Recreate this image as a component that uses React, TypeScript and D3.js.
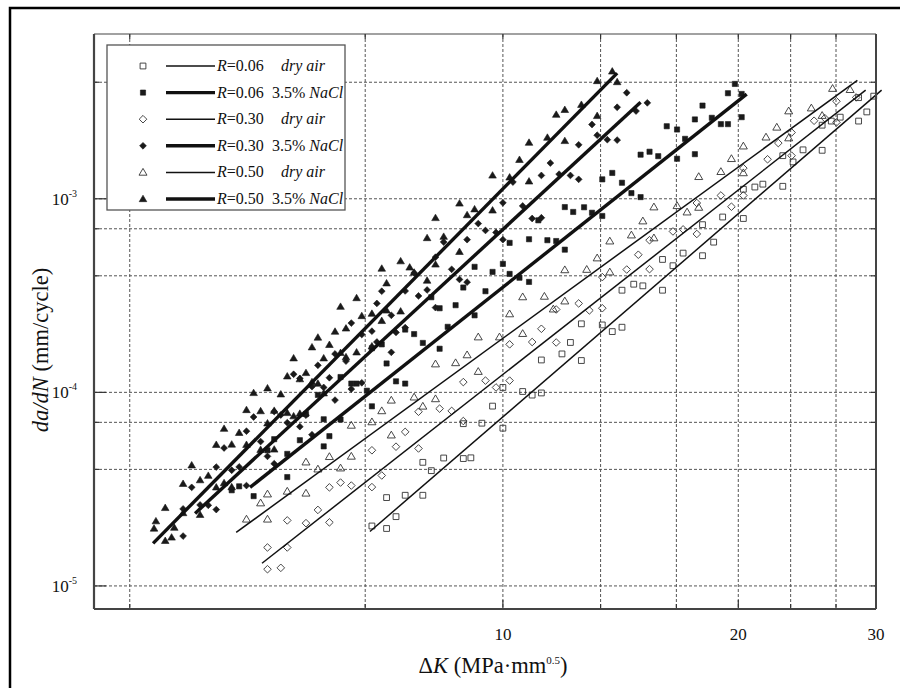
import React from 'react';
import * as d3 from 'd3';

type Pt = [number, number];

// ΔK (MPa·mm^0.5), da/dN (mm/cycle)
const r050NaCl: Pt[] = [
  [3.58, 1.98e-5], [3.77, 1.78e-5], [3.7, 2.53e-5], [3.7, 1.71e-5], [3.9, 3.37e-5], [3.9, 2.38e-5],
  [4.1, 3.52e-5], [4.1, 2.33e-5], [4.3, 5.36e-5], [4.3, 3.23e-5], [4.5, 5.38e-5], [4.5, 3.24e-5],
  [4.7, 8.11e-5], [4.7, 5.36e-5], [4.9, 5.05e-5], [4.9, 8.0e-5], [5.1, 8.04e-5], [5.1, 5.07e-5],
  [5.3, 1.21e-4], [5.3, 7.83e-5], [5.5, 1.17e-4], [5.5, 7.76e-5], [5.7, 1.71e-4], [5.7, 1.13e-4],
  [5.9, 1.5e-4], [5.9, 9.89e-5], [6.1, 2.06e-4], [6.3, 1.52e-4], [6.3, 2.14e-4], [6.5, 3.07e-4],
  [6.5, 1.61e-4], [6.8, 2.55e-4], [6.8, 1.73e-4], [7.1, 3.66e-4], [7.1, 2.65e-4], [7.4, 4.76e-4],
  [7.4, 2.62e-4], [7.7, 4.16e-4], [8.0, 6.27e-4], [8.0, 3.78e-4], [8.4, 6.37e-4], [8.8, 9.46e-4],
  [8.8, 5.32e-4], [9.2, 8.83e-4], [9.7, 1.32e-3], [9.7, 8.71e-4], [10.2, 1.29e-3], [10.8, 1.95e-3],
  [10.8, 1.23e-3], [11.4, 2.07e-3], [12.0, 2.88e-3], [12.0, 1.99e-3], [12.6, 3.06e-3], [13.2, 4.06e-3],
  [13.2, 2.68e-3], [13.8, 4.55e-3], [14.0, 4.01e-3],
  [3.6, 2.16e-5], [3.8, 2.0e-5], [4.0, 4.2e-5], [4.2, 3.71e-5], [4.4, 6.49e-5], [4.4, 3.4e-5],
  [4.6, 6.18e-5], [4.8, 9.93e-5], [5.0, 6.92e-5], [5.0, 1.05e-4], [5.2, 9.77e-5], [5.4, 1.5e-4],
  [5.4, 7.53e-5], [5.6, 1.26e-4], [5.8, 1.92e-4], [5.8, 1.11e-4], [6.0, 1.76e-4], [6.2, 2.77e-4],
  [6.2, 1.6e-4], [6.6, 2.48e-4], [7.0, 4.36e-4], [7.0, 2.34e-4], [7.6, 4.42e-4], [8.2, 7.96e-4],
  [8.2, 4.58e-4], [9.0, 8.24e-4], [10.5, 1.59e-3], [11.7, 2.72e-3],
];

const r030NaCl: Pt[] = [
  [3.9, 2.5e-5], [3.9, 1.81e-5], [4.1, 2.62e-5], [4.3, 4.11e-5], [4.3, 2.48e-5], [4.5, 3.96e-5],
  [4.7, 6.3e-5], [4.7, 3.3e-5], [4.9, 5.57e-5], [5.1, 7.96e-5], [5.1, 4.28e-5], [5.3, 6.97e-5],
  [5.5, 1.18e-4], [5.5, 6.65e-5], [5.7, 1.07e-4], [5.7, 6.04e-5], [5.9, 1.06e-4], [6.1, 1.58e-4],
  [6.1, 9.12e-5], [6.3, 1.45e-4], [6.6, 1.12e-4], [6.6, 1.99e-4], [6.9, 1.82e-4], [6.9, 2.88e-4],
  [7.2, 1.61e-4], [7.2, 2.5e-4], [7.5, 3.34e-4], [7.5, 2.16e-4], [7.8, 3.15e-4], [8.2, 4.99e-4],
  [8.2, 2.74e-4], [8.6, 4.32e-4], [9.0, 6.15e-4], [9.0, 3.71e-4], [9.5, 6.86e-4], [10.0, 6.15e-4],
  [10.0, 9.53e-4], [10.6, 9.18e-4], [11.2, 1.32e-3], [11.2, 7.98e-4], [11.8, 1.34e-3], [12.5, 1.9e-3],
  [12.5, 1.26e-3], [13.2, 2.13e-3], [14.0, 2.97e-3], [14.0, 2.01e-3], [14.8, 2.84e-3], [15.3, 3.13e-3],
  [4.0, 3.23e-5], [4.2, 2.61e-5], [4.4, 5.16e-5], [4.6, 4.12e-5], [4.8, 7.46e-5], [5.0, 4.67e-5],
  [5.2, 7.64e-5], [5.4, 1.24e-4], [5.6, 7.62e-5], [5.8, 1.38e-4], [6.0, 1.19e-4], [6.4, 2.28e-4],
  [6.4, 1.04e-4], [6.8, 2.07e-4], [7.0, 3.33e-4], [7.3, 2.04e-4], [7.7, 4.14e-4], [8.0, 3.38e-4],
  [8.4, 5.98e-4], [8.8, 3.83e-4], [9.3, 7.45e-4], [9.8, 6.7e-4], [10.3, 1.22e-3], [10.9, 7.91e-4],
  [11.5, 1.53e-3], [12.2, 1.32e-3], [13.0, 2.42e-3], [13.6, 2.02e-3], [14.4, 3.53e-3],
];

const r006NaCl: Pt[] = [
  [4.6, 3.27e-5], [4.8, 2.91e-5], [5.0, 5.02e-5], [5.3, 4.81e-5], [5.3, 3.65e-5], [5.6, 7.73e-5],
  [5.9, 7.26e-5], [5.9, 5.26e-5], [6.2, 1.2e-4], [6.2, 7.24e-5], [6.5, 1.11e-4], [6.8, 1.69e-4],
  [6.8, 8.47e-5], [7.1, 1.41e-4], [7.5, 2.11e-4], [7.5, 1.11e-4], [7.9, 1.8e-4], [8.3, 2.72e-4],
  [8.3, 1.68e-4], [8.7, 2.82e-4], [9.2, 4.45e-4], [9.2, 2.5e-4], [9.7, 4.19e-4], [10.2, 4.09e-4],
  [10.2, 5.92e-4], [10.8, 3.72e-4], [10.8, 6.18e-4], [11.4, 6.11e-4], [12.0, 9.06e-4], [12.0, 5.46e-4],
  [12.7, 9.04e-4], [13.4, 1.26e-3], [13.4, 8.15e-4], [14.2, 1.21e-3], [15.0, 1.69e-3], [15.0, 1.02e-3],
  [15.8, 1.66e-3], [16.7, 1.61e-3], [16.7, 2.28e-3], [17.6, 1.7e-3], [17.6, 2.57e-3], [18.5, 2.62e-3],
  [19.4, 3.51e-3], [19.4, 2.43e-3], [20.2, 3.48e-3], [20.2, 2.64e-3],
  [4.5, 3.12e-5], [5.1, 5.73e-5], [5.5, 5.66e-5], [5.8, 9.7e-5], [6.0, 5.94e-5], [6.4, 1.11e-4],
  [6.7, 1.02e-4], [7.0, 1.77e-4], [7.3, 1.14e-4], [7.7, 2.0e-4], [8.1, 3.1e-4], [8.5, 2.18e-4],
  [8.9, 3.48e-4], [9.5, 3.33e-4], [10.0, 4.61e-4], [10.5, 3.91e-4], [11.1, 7.74e-4], [11.7, 6.05e-4],
  [12.3, 8.55e-4], [13.0, 8.47e-4], [13.8, 1.36e-3], [14.6, 1.07e-3], [15.4, 1.75e-3], [16.2, 2.37e-3],
  [17.1, 2.04e-3], [18.0, 3.03e-3], [19.0, 2.43e-3], [19.8, 3.92e-3],
];

const r050Air: Pt[] = [
  [4.7, 2.21e-5], [5.0, 2.21e-5], [5.0, 2.98e-5], [5.3, 3.08e-5], [5.6, 4.36e-5], [5.6, 3.01e-5],
  [6.0, 4.65e-5], [6.4, 6.75e-5], [6.4, 4.67e-5], [6.8, 7.03e-5], [7.2, 6.01e-5], [7.2, 9.1e-5],
  [7.7, 9.44e-5], [8.2, 1.4e-4], [8.2, 9.25e-5], [8.7, 1.42e-4], [9.3, 1.93e-4], [9.3, 1.28e-4],
  [9.9, 1.93e-4], [10.6, 3.11e-4], [10.6, 2.01e-4], [11.3, 3.13e-4], [12.0, 4.29e-4], [12.0, 2.96e-4],
  [12.8, 4.31e-4], [13.7, 6.04e-4], [13.7, 4.18e-4], [14.6, 6.49e-4], [15.6, 9.06e-4], [15.6, 6.27e-4],
  [16.7, 9.2e-4], [17.8, 1.3e-3], [17.8, 9.02e-4], [19.0, 1.38e-3], [20.3, 1.87e-3], [20.3, 1.36e-3],
  [21.7, 2.08e-3], [23.2, 2.84e-3], [23.2, 2.06e-3], [24.8, 2.94e-3], [26.4, 3.71e-3], [27.8, 3.66e-3],
  [4.9, 2.68e-5], [5.8, 4.01e-5], [6.2, 4.06e-5], [7.0, 8.02e-5], [7.9, 8.47e-5], [9.0, 1.56e-4],
  [10.2, 2.54e-4], [11.6, 2.69e-4], [13.2, 4.94e-4], [15.1, 7.67e-4], [17.2, 8.53e-4], [19.6, 1.61e-3],
  [22.4, 2.34e-3], [25.6, 2.69e-3],
];

const r030Air: Pt[] = [
  [5.0, 1.22e-5], [5.0, 1.58e-5], [5.3, 1.58e-5], [5.3, 2.18e-5], [5.6, 2.11e-5], [6.0, 3.23e-5],
  [6.0, 2.13e-5], [6.4, 3.3e-5], [6.8, 5.02e-5], [6.8, 3.24e-5], [7.3, 5.24e-5], [7.8, 7.94e-5],
  [7.8, 5.13e-5], [8.3, 8.24e-5], [8.9, 7.11e-5], [8.9, 1.13e-4], [9.5, 1.15e-4], [10.2, 1.77e-4],
  [10.2, 1.15e-4], [10.9, 1.82e-4], [11.7, 2.68e-4], [11.7, 1.81e-4], [12.5, 2.88e-4], [13.4, 3.94e-4],
  [13.4, 2.72e-4], [14.4, 4.31e-4], [15.4, 6.11e-4], [15.4, 4.33e-4], [16.5, 6.78e-4], [17.7, 9.51e-4],
  [17.7, 6.58e-4], [19.0, 1.04e-3], [20.3, 1.44e-3], [20.3, 1.04e-3], [21.8, 1.6e-3], [23.4, 2.2e-3],
  [23.4, 1.67e-3], [25.0, 2.53e-3], [26.7, 3.19e-3], [26.7, 2.48e-3], [28.3, 3.34e-3],
  [5.2, 1.24e-5], [5.8, 2.47e-5], [6.2, 3.42e-5], [7.0, 3.72e-5], [7.5, 6.25e-5], [8.6, 8.02e-5],
  [9.8, 1.06e-4], [11.2, 2.13e-4], [12.9, 2.65e-4], [14.9, 5.14e-4], [17.0, 6.95e-4], [19.6, 9.1e-4],
  [22.5, 1.94e-3], [25.8, 2.61e-3],
];

const r006Air: Pt[] = [
  [6.8, 2.04e-5], [7.1, 1.98e-5], [7.1, 2.86e-5], [7.5, 2.94e-5], [7.9, 4.35e-5], [7.9, 2.94e-5],
  [8.4, 4.58e-5], [8.9, 6.89e-5], [8.9, 4.55e-5], [9.4, 6.93e-5], [10.0, 1.06e-4], [10.0, 6.53e-5],
  [10.6, 1.01e-4], [11.2, 1.47e-4], [11.2, 9.93e-5], [11.9, 1.58e-4], [12.6, 2.26e-4], [12.6, 1.46e-4],
  [13.4, 2.23e-4], [14.2, 3.37e-4], [14.2, 2.17e-4], [15.1, 3.55e-4], [16.0, 4.86e-4], [16.0, 3.37e-4],
  [17.0, 5.24e-4], [18.0, 7.35e-4], [18.0, 5.08e-4], [19.1, 8.05e-4], [20.3, 1.12e-3], [20.3, 7.91e-4],
  [21.5, 1.19e-3], [22.8, 1.67e-3], [22.8, 1.16e-3], [24.2, 1.79e-3], [25.6, 2.4e-3], [25.6, 1.78e-3],
  [27.0, 2.64e-3], [28.5, 3.33e-3], [28.5, 2.52e-3], [29.8, 3.39e-3],
  [7.3, 2.28e-5], [8.1, 3.94e-5], [9.1, 4.59e-5], [9.7, 8.49e-5], [10.9, 9.68e-5], [12.2, 1.81e-4],
  [13.8, 2.06e-4], [14.7, 3.62e-4], [16.5, 4.51e-4], [18.6, 5.97e-4], [21.0, 1.15e-3], [23.5, 1.55e-3],
  [26.3, 2.52e-3], [29.2, 2.81e-3],
];

// fitted Paris-law lines (end points)
const fit050NaCl: Pt[] = [[3.57, 1.66e-5], [14.0, 4.46e-3]];
const fit030NaCl: Pt[] = [[4.04, 2.37e-5], [15.0, 3.15e-3]];
const fit006NaCl: Pt[] = [[4.75, 3.23e-5], [20.5, 3.47e-3]];
const fit050Air: Pt[] = [[4.56, 1.89e-5], [28.4, 4.09e-3]];
const fit030Air: Pt[] = [[4.92, 1.31e-5], [29.1, 3.64e-3]];
const fit006Air: Pt[] = [[6.76, 1.91e-5], [30.5, 3.64e-3]];

const xGrid = [3.333, 6.667, 10, 13.333, 16.667, 20, 23.333, 26.667];
const xLabels = [10, 20, 30];
const yGrid = [1e-5, 4e-5, 7e-5, 1e-4, 4e-4, 7e-4, 1e-3, 4e-3];
const yLabels = [1e-5, 1e-4, 1e-3];

const legendR = ['0.06', '0.06', '0.30', '0.30', '0.50', '0.50'];
const legendEnv = ['air', 'NaCl', 'air', 'NaCl', 'air', 'NaCl'];

const FONT = 'Liberation Serif, Times New Roman, DejaVu Serif, serif';

type Shape = 'square' | 'diamond' | 'triangle';

function marker(shape: Shape, filled: boolean, cx: number, cy: number) {
  if (shape === 'square') {
    const h = filled ? 2.6 : 2.9;
    return `M${cx - h},${cy - h}h${2 * h}v${2 * h}h${-2 * h}Z`;
  }
  if (shape === 'diamond') {
    const h = filled ? 3.4 : 3.8;
    return `M${cx},${cy - h}L${cx + h},${cy}L${cx},${cy + h}L${cx - h},${cy}Z`;
  }
  const h = filled ? 3.8 : 4;
  return `M${cx},${cy - h}L${cx + h},${cy + h * 0.7}L${cx - h},${cy + h * 0.7}Z`;
}

const series = [
  { data: r006Air, fit: fit006Air, shape: 'square' as Shape, filled: false },
  { data: r030Air, fit: fit030Air, shape: 'diamond' as Shape, filled: false },
  { data: r050Air, fit: fit050Air, shape: 'triangle' as Shape, filled: false },
  { data: r006NaCl, fit: fit006NaCl, shape: 'square' as Shape, filled: true },
  { data: r030NaCl, fit: fit030NaCl, shape: 'diamond' as Shape, filled: true },
  { data: r050NaCl, fit: fit050NaCl, shape: 'triangle' as Shape, filled: true },
];
const legendOrder = [0, 3, 1, 4, 2, 5];

export default function App() {
  const left = 94, right = 876, top = 34, bottom = 609;
  const x = d3.scaleLog().domain([3, 30]).range([left, right]);
  const y = d3.scaleLog().domain([7.6e-6, 7.1e-3]).range([bottom, top]);
  const line = d3.line<Pt>().x((d) => x(d[0])).y((d) => y(d[1]));
  const supExp = (v: number) => '-' + String(Math.abs(Math.round(Math.log10(v))));
  const txt = { fontFamily: FONT };

  return (
    <svg width={900} height={688} style={{ position: 'absolute', left: 0, top: 0, background: '#fff', fontFamily: FONT }}>
      <rect x={10} y={8} width={1000} height={1000} fill="none" stroke="#000" strokeWidth={2.5} />

      {/* grid */}
      {xGrid.map((g) => (
        <g key={'xg' + g}>
          <line x1={x(g)} x2={x(g)} y1={top} y2={bottom} stroke="#555" strokeWidth={1} strokeDasharray="3,2" />
          <line x1={x(g)} x2={x(g)} y1={bottom} y2={bottom - (xLabels.includes(g) ? 9 : 5)} stroke="#333" strokeWidth={1.2} />
          <line x1={x(g)} x2={x(g)} y1={top} y2={top + 5} stroke="#333" strokeWidth={1.2} />
        </g>
      ))}
      {yGrid.map((g) => (
        <g key={'yg' + g}>
          <line x1={left} x2={right} y1={y(g)} y2={y(g)} stroke="#555" strokeWidth={1} strokeDasharray="3,2" />
          <line x1={left} x2={left + (yLabels.includes(g) ? 12 : 5)} y1={y(g)} y2={y(g)} stroke="#333" strokeWidth={1.2} />
          <line x1={right} x2={right - 5} y1={y(g)} y2={y(g)} stroke="#333" strokeWidth={1.2} />
        </g>
      ))}

      {/* data */}
      {series.map((s, i) => (
        <g key={'s' + i}>
          {s.data.map((d, j) => (
            <path
              key={j}
              d={marker(s.shape, s.filled, x(d[0]), y(d[1]))}
              fill={s.filled ? '#1a1a1a' : 'none'}
              stroke={s.filled ? '#1a1a1a' : '#333'}
              strokeWidth={s.filled ? 0.6 : 0.9}
            />
          ))}
        </g>
      ))}
      {series.map((s, i) => (
        <path key={'f' + i} d={line(s.fit) || ''} fill="none" stroke="#111" strokeWidth={s.filled ? 3.4 : 1.5} />
      ))}

      {/* frame */}
      <line x1={left} x2={right} y1={top} y2={top} stroke="#444" strokeWidth={1.2} />
      <line x1={right} x2={right} y1={top} y2={bottom} stroke="#444" strokeWidth={2} />
      <line x1={left} x2={right} y1={bottom} y2={bottom} stroke="#444" strokeWidth={2.2} />
      <line x1={left} x2={left} y1={top} y2={bottom} stroke="#444" strokeWidth={2.2} />

      {/* tick labels */}
      {xLabels.map((v) => (
        <text key={'xl' + v} x={x(v)} y={640} fontSize={17} textAnchor="middle" fill="#111" style={txt}>{v}</text>
      ))}
      {yLabels.map((v) => (
        <text key={'yl' + v} x={77} y={y(v) + 6} fontSize={17} textAnchor="end" fill="#111" style={txt}>
          10
          <tspan fontSize={10} dy={-8}>{supExp(v)}</tspan>
        </text>
      ))}

      {/* axis titles */}
      <text x={493} y={673} fontSize={22.5} textAnchor="middle" fill="#111" style={txt}>
        Δ<tspan fontStyle="italic">K</tspan> (MPa·mm<tspan fontSize={11} dy={-9}>0.5</tspan><tspan dy={9}>)</tspan>
      </text>
      <text transform="translate(48,350) rotate(-90)" fontSize={22.5} textAnchor="middle" fill="#111" style={txt}>
        <tspan fontStyle="italic">da/dN</tspan> (mm/cycle)
      </text>

      {/* legend */}
      <rect x={107} y={45} width={238} height={165} fill="#fff" stroke="#555" strokeWidth={1.3} />
      {legendOrder.map((si, i) => {
        const s = series[si];
        const ly = 66 + i * 26.6;
        return (
          <g key={'lg' + i}>
            <path
              d={marker(s.shape, s.filled, 143, ly)}
              fill={s.filled ? '#1a1a1a' : 'none'}
              stroke={s.filled ? '#1a1a1a' : '#333'}
              strokeWidth={s.filled ? 0.6 : 0.9}
            />
            <line x1={166} x2={215} y1={ly} y2={ly} stroke="#111" strokeWidth={s.filled ? 3.4 : 1.5} />
            <text x={217} y={ly + 5} fontSize={16} fill="#111" style={txt}>
              <tspan fontStyle="italic">R</tspan>=<tspan>{legendR[i]}</tspan>
            </text>
            {legendEnv[i] === 'air' ? (
              <text x={281} y={ly + 5} fontSize={16} fill="#111" fontStyle="italic" style={txt}>dry air</text>
            ) : (
              <text x={272} y={ly + 5} fontSize={16} fill="#111" style={txt}>
                3.5% <tspan fontStyle="italic">NaCl</tspan>
              </text>
            )}
          </g>
        );
      })}
    </svg>
  );
}
